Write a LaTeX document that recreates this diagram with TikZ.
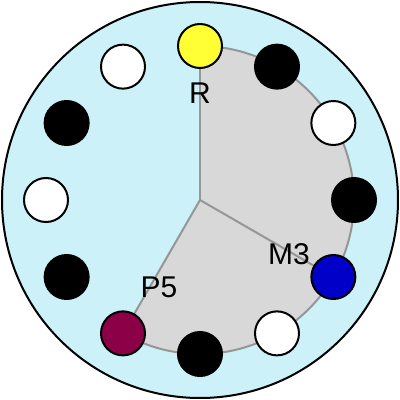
\documentclass[tikz,border=0pt]{standalone}
\usepackage{fontspec}
\setmainfont{Liberation Sans}
\usepackage{xcolor}
\usetikzlibrary{calc}
\definecolor{dialbg}{RGB}{205,241,249}
\definecolor{sectorgray}{RGB}{216,216,216}
\definecolor{rimgray}{RGB}{150,150,150}
\definecolor{maroon}{RGB}{140,0,72}
\definecolor{dotblue}{RGB}{0,0,200}
\definecolor{dotyellow}{RGB}{255,255,51}

\begin{document}
\begin{tikzpicture}[x=1pt,y=1pt,every node/.style={font=\fontsize{30}{36}\selectfont}]
\useasboundingbox (-200,-200) rectangle (200,200);
\tikzset{dot/.style={circle,draw=black,line width=2pt,minimum size=44pt,inner sep=0pt},
  rim/.style={rimgray,line width=2pt}}
\draw[fill=dialbg,line width=2pt] (0,0) circle (198);  % outer dial
\coordinate (c) at (0,0);
\fill[sectorgray] (c) -- (90:154) arc[start angle=90,end angle=-120,radius=154] -- cycle;
\draw[rim] (90:154) arc[start angle=90,end angle=-120,radius=154];
% dots round the dial
\foreach \a/\col/\nm in {90/dotyellow/R,60/black/d60,30/white/d30,0/black/d0,
  -30/dotblue/M,-60/white/dm60,-90/black/dm90,-120/maroon/P,
  -150/black/dm150,180/white/d180,150/black/d150,120/white/d120}
  \coordinate (\nm) at (\a:154);
\draw[rim] (c)--(R);
\draw[rim] (c)--(M);
\draw[rim] (c)--(P);
\foreach \a/\col/\nm in {90/dotyellow/R,60/black/d60,30/white/d30,0/black/d0,
  -30/dotblue/M,-60/white/dm60,-90/black/dm90,-120/maroon/P,
  -150/black/dm150,180/white/d180,150/black/d150,120/white/d120}
  \node[dot,fill=\col] (n\nm) at (\nm) {};
\node (lR) at (0,107) {R};
\node (lM) at (89,-54) {M3};
\node (lP) at (-41,-87) {P5};
\end{tikzpicture}
\end{document}
